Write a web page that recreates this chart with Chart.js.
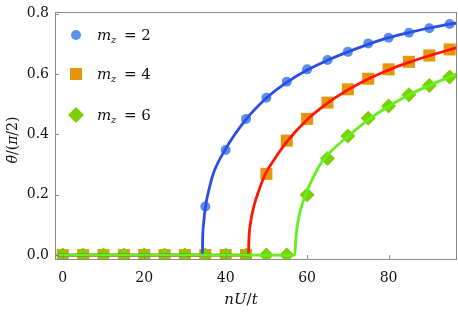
<!DOCTYPE html>
<html>
<head>
<meta charset="utf-8">
<script src="https://cdn.jsdelivr.net/npm/chart.js@4.4.1/dist/chart.umd.min.js"></script>
<style>
  html, body { margin: 0; padding: 0; background: #fff; }
  #wrap { width: 458px; height: 314px; position: relative; }
</style>
</head>
<body>
<div id="wrap"><canvas id="c" width="458" height="314"></canvas></div>
<script>
// ---- data ----
const xSamples = [0, 5, 10, 15, 20, 25, 30, 35, 40, 45, 50, 55, 60, 65, 70, 75, 80, 85, 90, 95];
const mz2Points = [0, 0, 0, 0, 0, 0, 0, 0.161, 0.348, 0.451, 0.521, 0.574, 0.615, 0.646, 0.673, 0.701, 0.720, 0.736, 0.751, 0.765];
const mz4Points = [0, 0, 0, 0, 0, 0, 0, 0, 0, 0, 0.269, 0.379, 0.451, 0.505, 0.549, 0.584, 0.615, 0.640, 0.661, 0.681];
const mz6Points = [0, 0, 0, 0, 0, 0, 0, 0, 0, 0, 0, 0, 0.200, 0.320, 0.394, 0.453, 0.494, 0.531, 0.562, 0.590];

const mz2FitX = [-1, 34.3, 34.35, 34.6, 35.0, 36.0, 37.0, 39.7, 45, 50, 55, 60, 65, 70, 75, 80, 85, 90, 95, 97];
const mz2FitY = [0, 0, 0.05, 0.106, 0.157, 0.222, 0.271, 0.345, 0.449, 0.520, 0.572, 0.613, 0.645, 0.673, 0.698, 0.720, 0.737, 0.752, 0.765, 0.769];
const mz4FitX = [-1, 45.6, 45.7, 46.1, 46.9, 48.2, 49.85, 52.1, 55, 60, 65, 70, 75, 80, 85, 90, 95, 97];
const mz4FitY = [0, 0, 0.05, 0.106, 0.160, 0.216, 0.271, 0.320, 0.375, 0.448, 0.503, 0.547, 0.583, 0.613, 0.638, 0.660, 0.680, 0.688];
const mz6FitX = [-1, 57.0, 57.2, 57.7, 58.6, 59.75, 62, 64.25, 70, 75, 80, 85, 90, 95, 97];
const mz6FitY = [0, 0, 0.05, 0.106, 0.160, 0.205, 0.271, 0.320, 0.393, 0.448, 0.493, 0.530, 0.562, 0.590, 0.602];

const xTickVals = [0, 20, 40, 60, 80];
const yTickVals = [0.0, 0.2, 0.4, 0.6, 0.8];
const legendLabels = ['2', '4', '6'];

// ---- styles ----
const markerColors = ['#5b8fea', '#e8950e', '#7ccf02'];
const lineColors = ['#2b4de6', '#ff1500', '#66ee1e'];
const markerStyles = ['circle', 'rect', 'rectRot'];
const markerRadii = [5, 8.5, 7.5];

function pts(xs, ys) { return xs.map((x, i) => ({ x: x, y: ys[i] })); }

const markerSets = [mz2Points, mz4Points, mz6Points];
const fitSets = [[mz2FitX, mz2FitY], [mz4FitX, mz4FitY], [mz6FitX, mz6FitY]];

const datasets = [];
markerSets.forEach((vals, i) => {
  datasets.push({
    label: 'mz=' + legendLabels[i] + ' data',
    data: pts(xSamples, vals),
    showLine: false,
    pointStyle: markerStyles[i],
    pointRadius: markerRadii[i],
    pointBackgroundColor: markerColors[i],
    pointBorderWidth: 0,
    pointBorderColor: markerColors[i],
    order: 10 - i
  });
});
fitSets.forEach((f, i) => {
  datasets.push({
    label: 'mz=' + legendLabels[i] + ' fit',
    data: pts(f[0], f[1]),
    showLine: true,
    borderColor: lineColors[i],
    borderWidth: 2.8,
    pointRadius: 0,
    cubicInterpolationMode: 'monotone',
    fill: false,
    order: 3 - i
  });
});

const SERIF = '"DejaVu Serif", "Liberation Serif", serif';

function drawRuns(ctx, runs, x, y, size) {
  let total = 0;
  const widths = runs.map(r => {
    ctx.font = (r[1] ? 'italic ' : '') + size + 'px ' + SERIF;
    const w = ctx.measureText(r[0]).width;
    total += w;
    return w;
  });
  let cx = x - total / 2;
  runs.forEach((r, i) => {
    ctx.font = (r[1] ? 'italic ' : '') + size + 'px ' + SERIF;
    ctx.fillText(r[0], cx, y);
    cx += widths[i];
  });
}

const decor = {
  id: 'decor',
  afterDatasetsDraw(chart) {
    const ctx = chart.ctx;
    const a = chart.chartArea;
    const xs = chart.scales.x, ys = chart.scales.y;
    ctx.save();
    ctx.strokeStyle = '#8a8a8a';
    ctx.lineWidth = 1;
    ctx.strokeRect(Math.round(a.left) + 0.5, Math.round(a.top) + 0.5,
                   Math.round(a.right - a.left) - 1, Math.round(a.bottom - a.top));
    ctx.beginPath();
    xTickVals.forEach(v => {
      const px = Math.round(xs.getPixelForValue(v)) + 0.5;
      ctx.moveTo(px, a.bottom);
      ctx.lineTo(px, a.bottom - 4);
    });
    yTickVals.forEach(v => {
      const py = Math.round(ys.getPixelForValue(v)) + 0.5;
      ctx.moveTo(a.left, py);
      ctx.lineTo(a.left + 4, py);
    });
    ctx.stroke();

    ctx.fillStyle = '#111';
    ctx.textBaseline = 'middle';
    drawRuns(ctx, [['nU', true], ['/', false], ['t', true]], 241, 300, 15);
    ctx.save();
    ctx.translate(13, 140);
    ctx.rotate(-Math.PI / 2);
    drawRuns(ctx, [['\u03B8\u0304', true], ['/(', false], ['\u03C0', true], ['/2)', false]], 0, 0, 14);
    ctx.restore();

    const legY = [35, 74, 115];
    legY.forEach((ly, i) => {
      ctx.fillStyle = markerColors[i];
      ctx.beginPath();
      if (i === 0) {
        ctx.arc(76, ly, 5, 0, Math.PI * 2);
      } else if (i === 1) {
        ctx.rect(70, ly - 6, 12, 12);
      } else {
        ctx.moveTo(76, ly - 8); ctx.lineTo(84, ly); ctx.lineTo(76, ly + 8); ctx.lineTo(68, ly);
        ctx.closePath();
      }
      ctx.fill();
      ctx.fillStyle = '#111';
      ctx.textBaseline = 'alphabetic';
      ctx.font = 'italic 15px ' + SERIF;
      ctx.fillText('m', 97, ly + 5);
      ctx.font = 'italic 10px ' + SERIF;
      ctx.fillText('z', 111, ly + 8);
      ctx.font = '15px ' + SERIF;
      ctx.fillText('= ' + legendLabels[i], 124, ly + 5);
    });
    ctx.restore();
  }
};

new Chart(document.getElementById('c'), {
  type: 'scatter',
  data: { datasets: datasets },
  options: {
    responsive: false,
    animation: false,
    devicePixelRatio: 1,
    layout: { autoPadding: false, padding: { top: 12, right: 1, left: 0, bottom: 0 } },
    plugins: { legend: { display: false }, tooltip: { enabled: false } },
    scales: {
      x: {
        type: 'linear',
        min: -1.9,
        max: 96.8,
        afterBuildTicks: s => { s.ticks = xTickVals.map(v => ({ value: v })); },
        afterFit: s => { s.height = 55; s.paddingLeft = 0; s.paddingRight = 0; },
        grid: { display: false, drawTicks: false },
        border: { display: false },
        ticks: {
          padding: 11,
          color: '#111',
          font: { family: SERIF, size: 14 },
          callback: v => String(v)
        }
      },
      y: {
        type: 'linear',
        min: -0.013,
        max: 0.805,
        afterBuildTicks: s => { s.ticks = yTickVals.map(v => ({ value: v })); },
        afterFit: s => { s.width = 55; s.paddingTop = 0; s.paddingBottom = 0; },
        grid: { display: false, drawTicks: false },
        border: { display: false },
        ticks: {
          padding: 6,
          color: '#111',
          font: { family: SERIF, size: 14 },
          callback: v => Number(v).toFixed(1)
        }
      }
    }
  },
  plugins: [decor]
});
</script>
</body>
</html>
